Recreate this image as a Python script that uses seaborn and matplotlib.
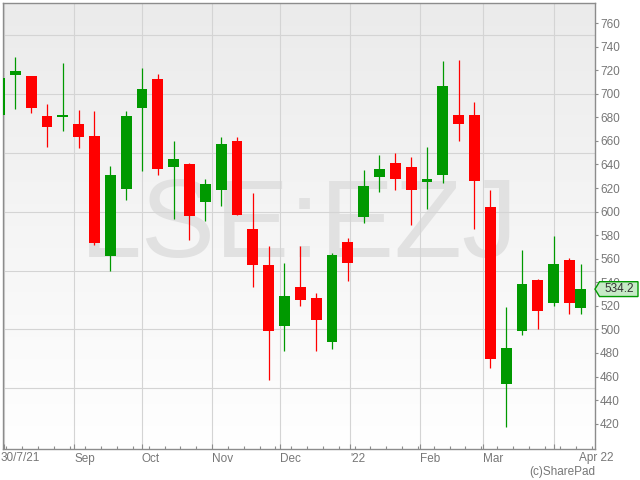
import numpy as np
import pandas as pd
import matplotlib
matplotlib.use("Agg")
import matplotlib.pyplot as plt
import matplotlib.dates as mdates
import matplotlib.transforms as mtransforms
from matplotlib.colors import LinearSegmentedColormap
from matplotlib.patches import Polygon
import seaborn as sns

# weekly candles (Fridays), the last one is a part week
week_dates = list(pd.date_range("2021-07-30", "2022-04-08", freq="7D")) + [pd.Timestamp("2022-04-13")]
opens = [682, 716, 715, 681, 680.3, 674.5, 664, 562.6, 619.4, 688, 712.6, 638, 640.5, 608.4,
         618, 660, 585, 554.7, 503, 536, 526.7, 489.6, 574, 595, 629.7, 641, 638, 625.5,
         631, 682, 682, 604, 453.4, 499, 542, 522.7, 559, 518.4]
highs = [715, 731, 715.5, 691, 726, 686, 685, 639, 685.5, 722, 717, 660, 641, 628,
         663, 663, 615.6, 570.6, 556, 570.6, 531, 565, 577.6, 635, 648, 649.5, 646, 654.6,
         727.6, 729, 693, 618, 519, 567, 542.5, 579, 561, 555.4]
lows = [680, 687, 683.5, 655, 668, 654, 572, 550, 609.6, 634.5, 631, 594, 576, 592,
        605, 597, 536, 457, 481.5, 520, 482, 483, 541.5, 590, 617, 618, 589, 602,
        624, 660, 585.6, 467, 417, 495, 500, 520, 513, 513.3]
closes = [713, 719.5, 688, 672, 681.8, 663, 573, 631, 681, 704, 636.4, 645, 596.5, 623.4,
          657.5, 597.4, 555, 499, 528.4, 525, 508, 563, 556, 621.7, 636, 628, 618.6, 627.7,
          706.6, 674.6, 626, 474.6, 484.5, 538.7, 516, 555.7, 522.7, 534.2]

ticker = "LSE:EZJ"
last_price = 534.2
y_label_ticks = list(range(420, 761, 20))
y_grid = list(range(450, 751, 50))
month_names = {1: "'22", 9: "Sep", 10: "Oct", 11: "Nov", 12: "Dec", 2: "Feb", 3: "Mar"}

UP = "#009900"
DOWN = "#ff0000"
GREY = "#777777"
LINE = "#8c8c8c"

sns.set_theme(style="white")
plt.rcParams["font.family"] = ["Liberation Sans", "DejaVu Sans"]

df = pd.DataFrame({"date": week_dates, "open": opens, "high": highs, "low": lows, "close": closes})
df["x"] = mdates.date2num(df["date"])
df["up"] = df["close"] >= df["open"]
colors = [UP if u else DOWN for u in df["up"]]

fig = plt.figure(figsize=(6.4, 4.8), dpi=100)
ax = fig.add_axes([3.3 / 640, 1 - 449 / 480, (595 - 3.3) / 640, (449 - 3.3) / 480])

x0 = mdates.date2num(pd.Timestamp("2021-08-06"))
xlim = (x0 - 5.3, x0 + 256.3)
ylim = (398.5, 776.8)

# background gradient + watermark
cmap = LinearSegmentedColormap.from_list("bg", ["#ffffff", "#ebebeb"])
ax.imshow(np.linspace(0, 1, 256).reshape(-1, 1), cmap=cmap, aspect="auto", origin="lower",
          extent=[0, 1, 0, 1], transform=ax.transAxes, zorder=0.1)
ax.text(0.5, 0.431, ticker, transform=ax.transAxes, ha="center", va="baseline",
        fontsize=80, color="#e1e1e1", zorder=0.3)

# grid
month_starts = mdates.date2num(pd.date_range("2021-08-01", "2022-04-01", freq="MS"))
ax.hlines(y_grid, *xlim, colors="#d4d4d4", lw=0.8, zorder=0.5)
ax.vlines(month_starts, *ylim, colors="#d4d4d4", lw=0.8, zorder=0.5)

# candles
ax.vlines(df["x"], df["low"], df["high"], colors=colors, lw=0.9, zorder=2)
body = (df["close"] - df["open"]).abs().clip(lower=0.8)
bottom = df[["open", "close"]].min(axis=1)
ax.bar(df["x"], body, bottom=bottom, width=4.8, color=colors, linewidth=0, zorder=3)

ax.set_xlim(*xlim)
ax.set_ylim(*ylim)
ax.grid(False)

# axes
for s in ax.spines.values():
    s.set_visible(True)
    s.set_color(LINE)
    s.set_linewidth(1)

ax.xaxis.set_major_locator(mdates.MonthLocator())
ax.xaxis.set_minor_locator(mdates.WeekdayLocator(byweekday=mdates.MO))
ax.xaxis.set_major_formatter(plt.FuncFormatter(
    lambda v, pos: month_names.get(mdates.num2date(v).month, "")))
ax.tick_params(axis="x", which="major", direction="in", length=3.6, width=0.8, color=LINE,
               labelsize=8.5, labelcolor=GREY, pad=3, bottom=True)
ax.tick_params(axis="x", which="minor", direction="in", length=2.2, width=0.8, color=LINE,
               bottom=True)
plt.setp(ax.get_xticklabels(), ha="left")

ax.yaxis.tick_right()
ax.set_yticks(y_label_ticks)
ax.tick_params(axis="y", which="major", direction="out", length=2.2, width=0.8, color=LINE,
               labelsize=8.5, labelcolor=GREY, pad=1.5, right=True, left=False)

fig.text(0.5 / 640, 1 - 457.7 / 480, "30/7/21", ha="left", va="center", fontsize=8.5, color=GREY)
fig.text(579 / 640, 1 - 457.7 / 480, "Apr 22", ha="left", va="center", fontsize=8.5, color=GREY)
fig.text(595 / 640, 1 - 471.7 / 480, "(c)SharePad", ha="right", va="center", fontsize=8.5, color=GREY)

# last price tag (covers part of the 540 label, as in the original)
trans = mtransforms.blended_transform_factory(fig.transFigure, ax.transData)
h = 6.3
tag = Polygon([(595 / 640, last_price), (599.5 / 640, last_price + h), (638 / 640, last_price + h),
               (638 / 640, last_price - h), (599.5 / 640, last_price - h)], closed=True,
              transform=trans, facecolor="#c6eac6", edgecolor=UP, lw=1, zorder=10)
fig.add_artist(tag)
fig.text(619 / 640, last_price, f"{last_price:.1f}", transform=trans, ha="center", va="center",
         fontsize=8.5, color="#333333", zorder=11)

fig.savefig("out.png", dpi=100)
